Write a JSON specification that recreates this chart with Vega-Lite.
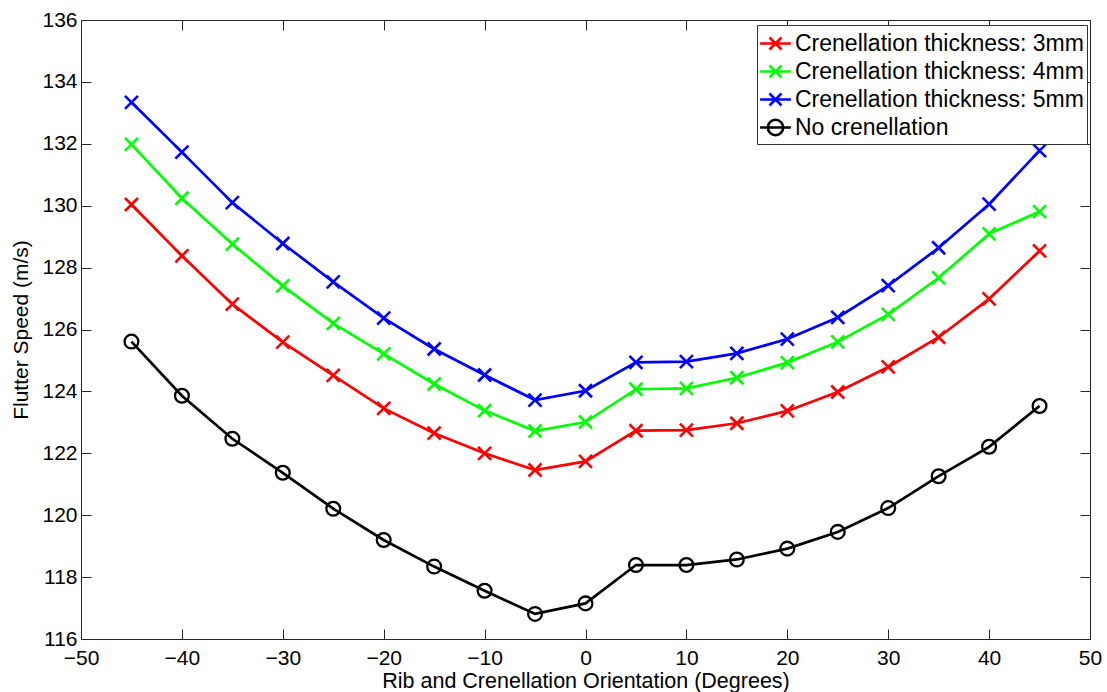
{
  "$schema": "https://vega.github.io/schema/vega-lite/v6.json",
  "width": 1009,
  "height": 619,
  "autosize": {"type": "none"},
  "padding": {"left": 81, "top": 20, "right": 17, "bottom": 53},
  "background": "white",
  "config": {"view": {"stroke": "#262626", "strokeWidth": 1}, "font": "Liberation Sans"},
  "data": {"values": [
    {"angle": -45, "speed": 130.04, "series": "Crenellation thickness: 3mm"},
    {"angle": -40, "speed": 128.38, "series": "Crenellation thickness: 3mm"},
    {"angle": -35, "speed": 126.82, "series": "Crenellation thickness: 3mm"},
    {"angle": -30, "speed": 125.59, "series": "Crenellation thickness: 3mm"},
    {"angle": -25, "speed": 124.52, "series": "Crenellation thickness: 3mm"},
    {"angle": -20, "speed": 123.45, "series": "Crenellation thickness: 3mm"},
    {"angle": -15, "speed": 122.65, "series": "Crenellation thickness: 3mm"},
    {"angle": -10, "speed": 122.00, "series": "Crenellation thickness: 3mm"},
    {"angle": -5, "speed": 121.46, "series": "Crenellation thickness: 3mm"},
    {"angle": 0, "speed": 121.74, "series": "Crenellation thickness: 3mm"},
    {"angle": 5, "speed": 122.73, "series": "Crenellation thickness: 3mm"},
    {"angle": 10, "speed": 122.75, "series": "Crenellation thickness: 3mm"},
    {"angle": 15, "speed": 122.97, "series": "Crenellation thickness: 3mm"},
    {"angle": 20, "speed": 123.37, "series": "Crenellation thickness: 3mm"},
    {"angle": 25, "speed": 123.98, "series": "Crenellation thickness: 3mm"},
    {"angle": 30, "speed": 124.79, "series": "Crenellation thickness: 3mm"},
    {"angle": 35, "speed": 125.75, "series": "Crenellation thickness: 3mm"},
    {"angle": 40, "speed": 126.99, "series": "Crenellation thickness: 3mm"},
    {"angle": 45, "speed": 128.54, "series": "Crenellation thickness: 3mm"},
    {"angle": -45, "speed": 131.98, "series": "Crenellation thickness: 4mm"},
    {"angle": -40, "speed": 130.24, "series": "Crenellation thickness: 4mm"},
    {"angle": -35, "speed": 128.76, "series": "Crenellation thickness: 4mm"},
    {"angle": -30, "speed": 127.41, "series": "Crenellation thickness: 4mm"},
    {"angle": -25, "speed": 126.20, "series": "Crenellation thickness: 4mm"},
    {"angle": -20, "speed": 125.21, "series": "Crenellation thickness: 4mm"},
    {"angle": -15, "speed": 124.24, "series": "Crenellation thickness: 4mm"},
    {"angle": -10, "speed": 123.38, "series": "Crenellation thickness: 4mm"},
    {"angle": -5, "speed": 122.72, "series": "Crenellation thickness: 4mm"},
    {"angle": 0, "speed": 123.01, "series": "Crenellation thickness: 4mm"},
    {"angle": 5, "speed": 124.07, "series": "Crenellation thickness: 4mm"},
    {"angle": 10, "speed": 124.10, "series": "Crenellation thickness: 4mm"},
    {"angle": 15, "speed": 124.44, "series": "Crenellation thickness: 4mm"},
    {"angle": 20, "speed": 124.93, "series": "Crenellation thickness: 4mm"},
    {"angle": 25, "speed": 125.60, "series": "Crenellation thickness: 4mm"},
    {"angle": 30, "speed": 126.49, "series": "Crenellation thickness: 4mm"},
    {"angle": 35, "speed": 127.67, "series": "Crenellation thickness: 4mm"},
    {"angle": 40, "speed": 129.09, "series": "Crenellation thickness: 4mm"},
    {"angle": 45, "speed": 129.81, "series": "Crenellation thickness: 4mm"},
    {"angle": -45, "speed": 133.34, "series": "Crenellation thickness: 5mm"},
    {"angle": -40, "speed": 131.73, "series": "Crenellation thickness: 5mm"},
    {"angle": -35, "speed": 130.10, "series": "Crenellation thickness: 5mm"},
    {"angle": -30, "speed": 128.78, "series": "Crenellation thickness: 5mm"},
    {"angle": -25, "speed": 127.54, "series": "Crenellation thickness: 5mm"},
    {"angle": -20, "speed": 126.37, "series": "Crenellation thickness: 5mm"},
    {"angle": -15, "speed": 125.37, "series": "Crenellation thickness: 5mm"},
    {"angle": -10, "speed": 124.53, "series": "Crenellation thickness: 5mm"},
    {"angle": -5, "speed": 123.72, "series": "Crenellation thickness: 5mm"},
    {"angle": 0, "speed": 124.02, "series": "Crenellation thickness: 5mm"},
    {"angle": 5, "speed": 124.94, "series": "Crenellation thickness: 5mm"},
    {"angle": 10, "speed": 124.96, "series": "Crenellation thickness: 5mm"},
    {"angle": 15, "speed": 125.23, "series": "Crenellation thickness: 5mm"},
    {"angle": 20, "speed": 125.69, "series": "Crenellation thickness: 5mm"},
    {"angle": 25, "speed": 126.39, "series": "Crenellation thickness: 5mm"},
    {"angle": 30, "speed": 127.42, "series": "Crenellation thickness: 5mm"},
    {"angle": 35, "speed": 128.64, "series": "Crenellation thickness: 5mm"},
    {"angle": 40, "speed": 130.05, "series": "Crenellation thickness: 5mm"},
    {"angle": 45, "speed": 131.78, "series": "Crenellation thickness: 5mm"},
    {"angle": -45, "speed": 125.61, "series": "No crenellation"},
    {"angle": -40, "speed": 123.86, "series": "No crenellation"},
    {"angle": -35, "speed": 122.47, "series": "No crenellation"},
    {"angle": -30, "speed": 121.37, "series": "No crenellation"},
    {"angle": -25, "speed": 120.21, "series": "No crenellation"},
    {"angle": -20, "speed": 119.20, "series": "No crenellation"},
    {"angle": -15, "speed": 118.34, "series": "No crenellation"},
    {"angle": -10, "speed": 117.56, "series": "No crenellation"},
    {"angle": -5, "speed": 116.81, "series": "No crenellation"},
    {"angle": 0, "speed": 117.15, "series": "No crenellation"},
    {"angle": 5, "speed": 118.39, "series": "No crenellation"},
    {"angle": 10, "speed": 118.39, "series": "No crenellation"},
    {"angle": 15, "speed": 118.57, "series": "No crenellation"},
    {"angle": 20, "speed": 118.92, "series": "No crenellation"},
    {"angle": 25, "speed": 119.46, "series": "No crenellation"},
    {"angle": 30, "speed": 120.23, "series": "No crenellation"},
    {"angle": 35, "speed": 121.26, "series": "No crenellation"},
    {"angle": 40, "speed": 122.21, "series": "No crenellation"},
    {"angle": 45, "speed": 123.53, "series": "No crenellation"}
  ]},
  "encoding": {
    "color": {
      "field": "series",
      "type": "nominal",
      "scale": {
        "domain": ["Crenellation thickness: 3mm", "Crenellation thickness: 4mm", "Crenellation thickness: 5mm", "No crenellation"],
        "range": ["#ff0000", "#00ff00", "#0000ff", "#000000"]
      },
      "legend": {
        "orient": "none",
        "legendX": 676,
        "legendY": 5,
        "title": null,
        "labelFont": "Liberation Sans",
        "labelFontSize": 23,
        "labelColor": "black",
        "labelLimit": 500,
        "labelOffset": 4,
        "symbolType": "M-1.1,0L1.1,0M-0.43,-0.43L0.43,0.43M-0.43,0.43L0.43,-0.43",
        "symbolSize": 784,
        "symbolStrokeWidth": 2.6,
        "strokeColor": "#333333",
        "fillColor": "white",
        "padding": 3,
        "rowPadding": 0,
        "cornerRadius": 0,
        "encode": {
          "symbols": {
            "update": {
              "shape": {"signal": "datum.value === 'No crenellation' ? 'M-1.1,0L1.1,0M0.55,0A0.55,0.55,0,1,1,-0.55,0A0.55,0.55,0,1,1,0.55,0' : 'M-1.1,0L1.1,0M-0.43,-0.43L0.43,0.43M-0.43,0.43L0.43,-0.43'"},
              "fill": {"value": "transparent"},
              "strokeWidth": {"value": 2.6}
            }
          }
        }
      }
    }
  },
  "layer": [
    {
      "mark": {"type": "line", "strokeWidth": 2.7},
      "encoding": {
        "x": {
          "field": "angle", "type": "quantitative",
          "scale": {"domain": [-50, 50], "nice": false},
          "axis": {
            "orient": "bottom",
            "values": [-50, -40, -30, -20, -10, 0, 10, 20, 30, 40, 50],
            "tickSize": -10, "labelPadding": 18, "labelFlush": false, "labelOverlap": false,
            "labelFont": "Liberation Sans", "labelFontSize": 21, "labelColor": "black",
            "title": "Rib and Crenellation Orientation (Degrees)",
            "titleFont": "Liberation Sans", "titleFontSize": 21.5, "titleFontWeight": "normal", "titleColor": "black", "titlePadding": 2,
            "domainColor": "#262626", "tickColor": "#262626", "grid": false
          }
        },
        "y": {
          "field": "speed", "type": "quantitative",
          "scale": {"domain": [116, 136], "nice": false, "zero": false},
          "axis": {
            "orient": "left",
            "values": [116, 118, 120, 122, 124, 126, 128, 130, 132, 134, 136],
            "tickSize": -10, "labelPadding": 14, "labelFlush": false, "labelOverlap": false,
            "labelFont": "Liberation Sans", "labelFontSize": 21, "labelColor": "black",
            "title": "Flutter Speed (m/s)",
            "titleFont": "Liberation Sans", "titleFontSize": 21, "titleFontWeight": "normal", "titleColor": "black", "titlePadding": 10,
            "domainColor": "#262626", "tickColor": "#262626", "grid": false
          }
        }
      }
    },
    {
      "transform": [{"filter": "datum.series !== 'No crenellation'"}],
      "mark": {"type": "point", "filled": false, "strokeWidth": 2.6, "size": 169, "opacity": 1, "shape": "M-1,-1L1,1M-1,1L1,-1"},
      "encoding": {
        "x": {
          "field": "angle", "type": "quantitative",
          "scale": {"domain": [-50, 50], "nice": false},
          "axis": {
            "orient": "top", "values": [-50, -40, -30, -20, -10, 0, 10, 20, 30, 40, 50],
            "labels": false, "title": null, "tickSize": -10,
            "domainColor": "#262626", "tickColor": "#262626", "grid": false
          }
        },
        "y": {
          "field": "speed", "type": "quantitative",
          "scale": {"domain": [116, 136], "nice": false, "zero": false},
          "axis": {
            "orient": "right", "values": [116, 118, 120, 122, 124, 126, 128, 130, 132, 134, 136],
            "labels": false, "title": null, "tickSize": -10,
            "domainColor": "#262626", "tickColor": "#262626", "grid": false
          }
        }
      }
    },
    {
      "transform": [{"filter": "datum.series === 'No crenellation'"}],
      "mark": {"type": "point", "filled": false, "strokeWidth": 2.3, "size": 190, "opacity": 1, "shape": "circle"},
      "encoding": {
        "x": {"field": "angle", "type": "quantitative", "scale": {"domain": [-50, 50], "nice": false}, "axis": null},
        "y": {"field": "speed", "type": "quantitative", "scale": {"domain": [116, 136], "nice": false, "zero": false}, "axis": null}
      }
    }
  ],
  "resolve": {"axis": {"x": "independent", "y": "independent"}}
}
